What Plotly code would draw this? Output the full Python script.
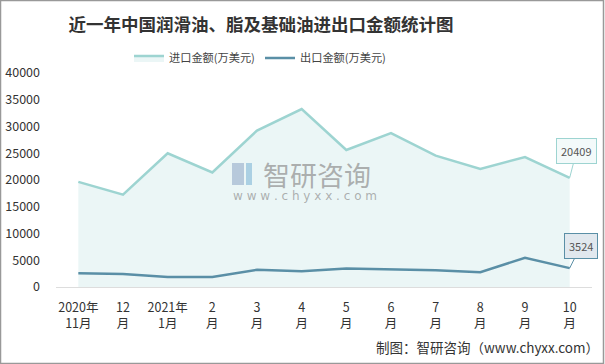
import plotly.graph_objects as go

months = ["2020年<br>11月", "12<br>月", "2021年<br>1月", "2<br>月", "3<br>月", "4<br>月",
          "5<br>月", "6<br>月", "7<br>月", "8<br>月", "9<br>月", "10<br>月"]
import_vals = [19650, 17250, 25000, 21400, 29250, 33250, 25600, 28750, 24550, 22050, 24300, 20409]
export_vals = [2580, 2430, 1880, 1880, 3220, 2950, 3450, 3300, 3150, 2780, 5450, 3524]
y_ticks = [0, 5000, 10000, 15000, 20000, 25000, 30000, 35000, 40000]

W, H = 605, 364
L, R, T, B = 56, 13, 73, 77
pw, ph = W - L - R, H - T - B

def px(x):
    return (x - L) / pw

def py(y):
    return (H - B - y) / ph

FONT = "Noto Sans CJK SC, Microsoft YaHei, sans-serif"
imp_c = "#9DD4D1"
exp_c = "#5A8FA6"

fig = go.Figure()
fig.add_trace(go.Scatter(
    x=months, y=import_vals, name="进口金额(万美元)", mode="lines",
    line=dict(color=imp_c, width=2.5), fill="tozeroy",
    fillcolor="rgba(157,212,209,0.2)"))
fig.add_trace(go.Scatter(
    x=months, y=export_vals, name="出口金额(万美元)", mode="lines",
    line=dict(color=exp_c, width=2.5)))

annotations = [
    dict(x=months[-1], y=import_vals[-1], xref="x", yref="y", text=f"{import_vals[-1]}",
         showarrow=True, arrowhead=0, arrowwidth=1, arrowcolor=imp_c, ax=7, ay=-27,
         bgcolor="#F3FAFA", bordercolor=imp_c, borderwidth=1, borderpad=4,
         font=dict(size=11, color="#555", family=FONT)),
    dict(x=months[-1], y=export_vals[-1], xref="x", yref="y", text=f"{export_vals[-1]}",
         showarrow=True, arrowhead=0, arrowwidth=1, arrowcolor=exp_c, ax=11, ay=-22,
         bgcolor="#E1E8EE", bordercolor=exp_c, borderwidth=1, borderpad=4,
         font=dict(size=11, color="#555", family=FONT)),
    dict(x=px(261), y=py(174), xref="paper", yref="paper", text="智研咨询", showarrow=False,
         xanchor="left", yanchor="middle", font=dict(size=27, color="rgba(150,150,150,0.75)", family=FONT)),
    dict(x=px(231), y=py(196), xref="paper", yref="paper", text="w w w . c h y x x . c o m",
         showarrow=False, xanchor="left", yanchor="middle",
         font=dict(size=12, color="rgba(150,150,150,0.75)", family="DejaVu Sans")),
    dict(x=px(601), y=py(347), xref="paper", yref="paper", text="制图：智研咨询（www.chyxx.com）",
         showarrow=False, xanchor="right", yanchor="middle",
         font=dict(size=13.5, color="#333", family=FONT)),
]

shapes = [
    dict(type="rect", xref="paper", yref="paper", x0=px(0.5), x1=px(603.5), y0=py(363.5), y1=py(0.5),
         line=dict(color="#999", width=1.5), fillcolor="rgba(0,0,0,0)", layer="below"),
    dict(type="rect", xref="paper", yref="paper", x0=px(232), x1=px(244), y0=py(185), y1=py(163),
         line=dict(width=0), fillcolor="rgba(165,185,210,0.75)"),
    dict(type="rect", xref="paper", yref="paper", x0=px(246), x1=px(252), y0=py(185), y1=py(163),
         line=dict(width=0), fillcolor="rgba(150,195,220,0.75)"),
]

fig.update_layout(
    width=W, height=H,
    margin=dict(l=L, r=R, t=T, b=B, autoexpand=False),
    paper_bgcolor="white", plot_bgcolor="white",
    title=dict(text="<b>近一年中国润滑油、脂及基础油进出口金额统计图</b>", x=261 / W, xanchor="center",
               y=1 - 25 / H, yanchor="middle", yref="container", xref="container",
               font=dict(size=17.5, color="#333", family="Noto Sans CJK SC, serif")),
    legend=dict(orientation="h", x=px(129), xanchor="left", y=py(58), yanchor="middle",
                font=dict(size=11.2, color="#444", family=FONT), itemwidth=30,
                entrywidth=86, entrywidthmode="pixels",
                bgcolor="rgba(0,0,0,0)", traceorder="normal"),
    font=dict(family=FONT, color="#333"),
    xaxis=dict(type="category", range=[-0.5, 11.5], showgrid=False, zeroline=False,
               showline=True, linecolor="#DDDDDD", linewidth=1, ticks="", automargin=False,
               tickfont=dict(size=12.5, color="#333", family=FONT), ticklabelstandoff=9),
    yaxis=dict(range=[0, 40000], tickvals=y_ticks, ticktext=[str(v) for v in y_ticks],
               showgrid=False, zeroline=False, showline=False, ticks="", automargin=False,
               tickfont=dict(size=12.5, color="#333", family=FONT), ticklabelstandoff=15),
    annotations=annotations,
    shapes=shapes,
    hovermode=False,
)

fig.write_html("out.html", config={"displayModeBar": False},
               post_script="document.body.style.margin='0px';document.body.style.padding='0px';")
